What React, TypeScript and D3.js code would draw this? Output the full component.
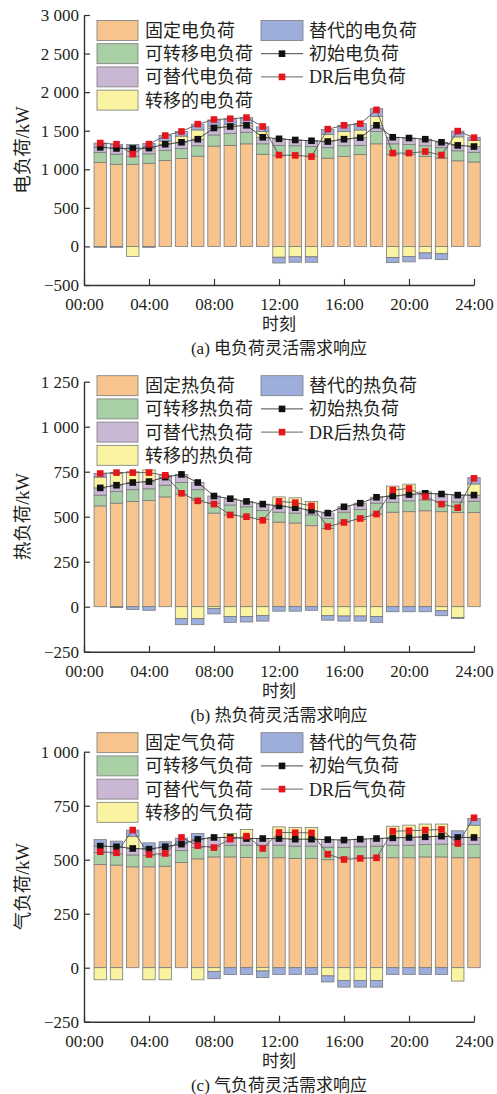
import React, { useEffect, useRef } from 'react';
import * as d3 from 'd3';

// hour index of each bar (1..24)
const hours = [1, 2, 3, 4, 5, 6, 7, 8, 9, 10, 11, 12, 13, 14, 15, 16, 17, 18, 19, 20, 21, 22, 23, 24];
const xTickValues = [0, 4, 8, 12, 16, 20, 24];
const xTickLabels = ['00:00', '04:00', '08:00', '12:00', '16:00', '20:00', '24:00'];

// (a) electric load, kW
const elecFixed = [1090, 1065, 1065, 1078, 1115, 1140, 1170, 1300, 1310, 1330, 1195, 1175, 1180, 1165, 1145, 1165, 1190, 1330, 1190, 1190, 1165, 1145, 1110, 1095];
const elecShiftable = [130, 130, 100, 122, 130, 130, 135, 145, 155, 150, 135, 135, 125, 130, 135, 140, 120, 160, 140, 130, 140, 135, 130, 125];
const elecSubstitutable = [65, 75, 105, 75, 80, 80, 85, 90, 90, 90, 85, 85, 75, 75, 80, 85, 100, 80, 85, 85, 85, 70, 70, 75];
const elecShiftIn = [0, 0, 0, 0, 40, 80, 120, 25, 25, 25, 75, 0, 0, 0, 90, 100, 100, 115, 0, 0, 0, 0, 110, 80];
const elecSubIn = [55, 50, 50, 60, 75, 60, 75, 80, 75, 75, 60, 0, 0, 0, 65, 80, 85, 100, 0, 0, 0, 0, 75, 40];
const elecShiftOut = [0, 0, -130, 0, 0, 0, 0, 0, 0, 0, 0, -140, -135, -135, 0, 0, 0, 0, -145, -130, -85, -95, 0, 0];
const elecSubOut = [-12, -12, 0, -12, 0, 0, 0, 0, 0, 0, 0, -75, -70, -70, 0, 0, 0, 0, -65, -70, -75, -75, 0, 0];
const elecInitial = [1285, 1270, 1270, 1275, 1325, 1350, 1390, 1535, 1555, 1570, 1415, 1395, 1380, 1370, 1360, 1390, 1410, 1570, 1415, 1405, 1390, 1350, 1310, 1295];
const elecAfterDR = [1340, 1325, 1196, 1326, 1437, 1490, 1585, 1645, 1655, 1670, 1555, 1185, 1180, 1165, 1520, 1570, 1590, 1770, 1210, 1210, 1230, 1185, 1495, 1410];

// (b) heat load, kW
const heatFixed = [560, 575, 585, 590, 610, 625, 590, 520, 510, 495, 485, 470, 465, 450, 435, 470, 485, 515, 525, 528, 533, 528, 524, 524];
const heatShiftable = [60, 65, 65, 65, 65, 65, 60, 55, 55, 60, 50, 55, 55, 60, 55, 55, 55, 60, 55, 60, 60, 55, 58, 62];
const heatSubstitutable = [40, 35, 40, 40, 45, 45, 40, 40, 35, 30, 35, 35, 30, 25, 30, 30, 35, 33, 35, 35, 37, 43, 38, 34];
const heatShiftIn = [60, 65, 60, 65, 10, 0, 0, 0, 0, 0, 0, 50, 55, 50, 0, 0, 0, 0, 55, 58, 8, 0, 0, 62];
const heatSubIn = [20, 5, 0, 0, 0, 0, 0, 0, 0, 0, 0, 0, 0, 0, 0, 0, 0, 0, 0, 0, 0, 0, 0, 35];
const heatShiftOut = [0, 0, 0, 0, 0, -65, -65, -10, -55, -55, -50, 0, 0, 0, -50, -52, -52, -55, 0, 0, 0, -22, -60, 0];
const heatSubOut = [0, -5, -15, -20, 0, -35, -35, -30, -32, -30, -30, -25, -25, -20, -25, -28, -28, -32, -28, -28, -28, -28, -5, 0];
const heatInitial = [660, 675, 690, 695, 720, 735, 690, 615, 600, 585, 570, 560, 550, 535, 520, 555, 575, 608, 615, 623, 630, 626, 620, 620];
const heatAfterDR = [740, 745, 745, 745, 730, 630, 588, 570, 510, 500, 480, 585, 578, 560, 445, 468, 490, 515, 648, 657, 612, 570, 550, 713];

// (c) gas load, kW
const gasFixed = [478, 475, 467, 467, 470, 487, 504, 513, 513, 510, 509, 509, 506, 506, 500, 509, 509, 509, 509, 509, 513, 513, 509, 509];
const gasShiftable = [55, 52, 55, 54, 52, 55, 53, 47, 54, 57, 58, 58, 57, 57, 58, 48, 51, 54, 58, 58, 57, 59, 63, 61];
const gasSubstitutable = [30, 33, 30, 28, 38, 30, 37, 43, 36, 31, 31, 31, 32, 32, 35, 34, 35, 35, 34, 36, 36, 37, 31, 33];
const gasShiftIn = [0, 0, 55, 0, 0, 0, 0, 0, 18, 42, 0, 54, 54, 54, 0, 0, 0, 0, 54, 57, 59, 56, 0, 57];
const gasSubIn = [30, 26, 30, 29, 23, 28, 27, 0, 0, 0, 0, 0, 0, 0, 0, 0, 0, 0, 0, 0, 0, 0, 31, 31];
const gasShiftOut = [-56, -56, 0, -56, -56, 0, -56, -17, 0, 0, -15, 0, 0, 0, -38, -59, -59, -59, 0, 0, 0, 0, -62, 0];
const gasSubOut = [0, 0, 0, 0, 0, 0, 0, -34, -32, -31, -31, -31, -31, -31, -28, -31, -31, -31, -31, -31, -31, -31, 0, 0];
const gasInitial = [563, 560, 552, 549, 560, 572, 594, 603, 603, 598, 598, 598, 595, 595, 593, 591, 595, 598, 601, 603, 606, 609, 603, 603];
const gasAfterDR = [537, 532, 637, 524, 529, 603, 565, 556, 595, 609, 552, 626, 625, 624, 525, 501, 506, 509, 632, 634, 637, 640, 575, 694];

const keys = ['fixed', 'shiftable', 'substitutable', 'shiftIn', 'subIn', 'shiftOut', 'subOut'];
const colors: Record<string, string> = {
  fixed: '#F7C48E',
  shiftable: '#A9CFA5',
  substitutable: '#C9B7D3',
  shiftIn: '#FAF4A2',
  subIn: '#9DAEDD',
  shiftOut: '#FAF4A2',
  subOut: '#9DAEDD',
};

const FONT = "'Liberation Serif', 'Times New Roman', 'Noto Sans CJK SC', serif";
const TEXT = '#231f20';

interface Panel {
  name: string; // 电 / 热 / 气
  tag: string;
  domain: [number, number];
  ticks: number[];
  top: number;
  bottom: number;
  legendTop: number;
  rows: Record<string, number>[];
  initial: number[];
  afterDR: number[];
}

const makeRows = (f: number[], s: number[], sb: number[], si: number[], sbi: number[], so: number[], sbo: number[]) =>
  hours.map((h, i) => ({
    hour: h,
    fixed: f[i],
    shiftable: s[i],
    substitutable: sb[i],
    shiftIn: si[i],
    subIn: sbi[i],
    shiftOut: so[i],
    subOut: sbo[i],
  }));

const panels: Panel[] = [
  {
    name: '电', tag: '(a)', domain: [-500, 3000], ticks: [-500, 0, 500, 1000, 1500, 2000, 2500, 3000],
    top: 15, bottom: 285, legendTop: 20.5,
    rows: makeRows(elecFixed, elecShiftable, elecSubstitutable, elecShiftIn, elecSubIn, elecShiftOut, elecSubOut),
    initial: elecInitial, afterDR: elecAfterDR,
  },
  {
    name: '热', tag: '(b)', domain: [-250, 1250], ticks: [-250, 0, 250, 500, 750, 1000, 1250],
    top: 381.7, bottom: 651.7, legendTop: 375.7,
    rows: makeRows(heatFixed, heatShiftable, heatSubstitutable, heatShiftIn, heatSubIn, heatShiftOut, heatSubOut),
    initial: heatInitial, afterDR: heatAfterDR,
  },
  {
    name: '气', tag: '(c)', domain: [-250, 1000], ticks: [-250, 0, 250, 500, 750, 1000],
    top: 751.7, bottom: 1021.7, legendTop: 732.7,
    rows: makeRows(gasFixed, gasShiftable, gasSubstitutable, gasShiftIn, gasSubIn, gasShiftOut, gasSubOut),
    initial: gasInitial, afterDR: gasAfterDR,
  },
];

const fmt = (v: number) => d3.format(',')(v).replace(/,/g, ' ');

const App: React.FC = () => {
  const ref = useRef<SVGSVGElement>(null);

  useEffect(() => {
    const svg = d3.select(ref.current);
    svg.selectAll('*').remove();
    panels.forEach(p => drawPanel(svg, p));
  }, []);

  const drawPanel = (svg: d3.Selection<SVGSVGElement | null, unknown, null, undefined>, p: Panel) => {
    const x = d3.scaleLinear().domain([0, 24]).range([84, 474]);
    const y = d3.scaleLinear().domain(p.domain).range([p.bottom, p.top]);
    const barW = 12.4;
    const g = svg.append('g');

    // stacked bars (positive up, negative down)
    const series = d3.stack<Record<string, number>>()
      .keys(keys)
      .offset(d3.stackOffsetDiverging)(p.rows);

    series.forEach(s => {
      g.append('g')
        .selectAll('rect')
        .data(s.filter(d => d[1] !== d[0]))
        .enter().append('rect')
        .attr('x', d => x(d.data.hour) - barW / 2)
        .attr('y', d => y(Math.max(d[0], d[1])))
        .attr('width', barW)
        .attr('height', d => Math.abs(y(d[0]) - y(d[1])))
        .attr('fill', colors[s.key])
        .attr('stroke', '#7a7a7a')
        .attr('stroke-width', 0.8);
    });

    // lines with square markers
    const lineGen = d3.line<number>().x((d, i) => x(hours[i])).y(d => y(d));
    const drawLine = (vals: number[], markerColor: string, lineColor: string) => {
      g.append('path')
        .attr('d', lineGen(vals) || '')
        .attr('fill', 'none')
        .attr('stroke', lineColor)
        .attr('stroke-width', 0.9);
      g.append('g').selectAll('rect')
        .data(vals)
        .enter().append('rect')
        .attr('x', (d, i) => x(hours[i]) - 3.3)
        .attr('y', d => y(d) - 3.3)
        .attr('width', 6.6)
        .attr('height', 6.6)
        .attr('fill', markerColor);
    };
    drawLine(p.initial, '#111', '#333');
    drawLine(p.afterDR, '#e8141b', '#555');

    // axes
    const yAxis = d3.axisLeft(y)
      .tickValues(p.ticks)
      .tickSizeInner(-6)
      .tickSizeOuter(0)
      .tickPadding(5)
      .tickFormat(d => fmt(d as number));
    const ya = g.append('g').attr('transform', 'translate(84,0)').call(yAxis);

    const xAxis = d3.axisBottom(x)
      .tickValues(xTickValues)
      .tickSizeInner(-6)
      .tickSizeOuter(0)
      .tickPadding(13)
      .tickFormat((d, i) => xTickLabels[i]);
    const xa = g.append('g').attr('transform', `translate(0,${p.bottom})`).call(xAxis);

    [ya, xa].forEach(a => {
      a.select('.domain').attr('stroke', '#333').attr('stroke-width', 1.4);
      a.selectAll('.tick line').attr('stroke', '#333').attr('stroke-width', 1.2);
      a.selectAll('.tick text')
        .attr('fill', TEXT)
        .style('font-family', FONT)
        .style('font-size', '17px');
    });

    // axis titles and caption
    const midY = (p.top + p.bottom) / 2;
    g.append('text')
      .attr('transform', `translate(29,${midY}) rotate(-90)`)
      .attr('text-anchor', 'middle')
      .attr('fill', TEXT)
      .style('font-family', FONT)
      .style('font-size', '18.5px')
      .text(`${p.name}负荷/kW`);

    g.append('text')
      .attr('x', 279)
      .attr('y', p.bottom + 45)
      .attr('text-anchor', 'middle')
      .attr('fill', TEXT)
      .style('font-family', FONT)
      .style('font-size', '17px')
      .text('时刻');

    g.append('text')
      .attr('x', 279)
      .attr('y', p.bottom + 69)
      .attr('text-anchor', 'middle')
      .attr('fill', TEXT)
      .style('font-family', FONT)
      .style('font-size', '17px')
      .text(`${p.tag} ${p.name}负荷灵活需求响应`);

    // legend
    const step = 23.2;
    const leftItems = [
      { label: `固定${p.name}负荷`, color: colors.fixed },
      { label: `可转移${p.name}负荷`, color: colors.shiftable },
      { label: `可替代${p.name}负荷`, color: colors.substitutable },
      { label: `转移的${p.name}负荷`, color: colors.shiftIn },
    ];
    const lg = g.append('g');
    leftItems.forEach((it, i) => {
      const ty = p.legendTop + i * step;
      lg.append('rect')
        .attr('x', 97).attr('y', ty).attr('width', 41).attr('height', 20)
        .attr('fill', it.color).attr('stroke', '#7a7a7a').attr('stroke-width', 0.8);
      lg.append('text')
        .attr('x', 145).attr('y', ty + 10).attr('dy', '0.36em')
        .attr('fill', TEXT)
        .style('font-family', FONT).style('font-size', '18px')
        .text(it.label);
    });

    lg.append('rect')
      .attr('x', 261).attr('y', p.legendTop).attr('width', 42).attr('height', 20)
      .attr('fill', colors.subIn).attr('stroke', '#7a7a7a').attr('stroke-width', 0.8);
    lg.append('text')
      .attr('x', 309).attr('y', p.legendTop + 10).attr('dy', '0.36em')
      .attr('fill', TEXT)
      .style('font-family', FONT).style('font-size', '18px')
      .text(`替代的${p.name}负荷`);

    const lineItems = [
      { label: `初始${p.name}负荷`, color: '#111', line: '#333' },
      { label: `DR后${p.name}负荷`, color: '#e8141b', line: '#555' },
    ];
    lineItems.forEach((it, i) => {
      const cy = p.legendTop + 10 + (i + 1) * step;
      lg.append('line')
        .attr('x1', 261).attr('x2', 303).attr('y1', cy).attr('y2', cy)
        .attr('stroke', it.line).attr('stroke-width', 0.9);
      lg.append('rect')
        .attr('x', 282 - 3.3).attr('y', cy - 3.3).attr('width', 6.6).attr('height', 6.6)
        .attr('fill', it.color);
      lg.append('text')
        .attr('x', 309).attr('y', cy).attr('dy', '0.36em')
        .attr('fill', TEXT)
        .style('font-family', FONT).style('font-size', '18px')
        .text(it.label);
    });
  };

  return (
    <div style={{ position: 'absolute', left: 0, top: 0, background: '#fff' }}>
      <svg ref={ref} width={497} height={1094}></svg>
    </div>
  );
};

export default App;
